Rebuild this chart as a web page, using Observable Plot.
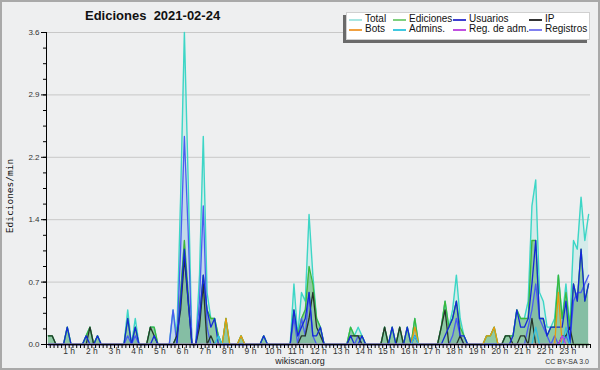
<!DOCTYPE html>
<html><head><meta charset="utf-8">
<script src="https://cdn.jsdelivr.net/npm/d3@7"></script>
<script src="https://cdn.jsdelivr.net/npm/@observablehq/plot@0.6"></script>
<style>
html,body{margin:0;padding:0;background:#eeeff0;}
#wrap{position:relative;width:600px;height:370px;background:#eeeff0;overflow:hidden;font-family:"Liberation Sans",Arial,sans-serif;}
#chart{position:absolute;left:0;top:0;}
#frame{position:absolute;left:0;top:0;width:600px;height:370px;box-sizing:border-box;border:2px solid #a9a9a9;pointer-events:none;}
#title{position:absolute;left:85px;top:9px;font-weight:bold;font-size:13px;line-height:13px;color:#111;white-space:pre;}
#ylab{position:absolute;left:9px;top:196px;transform:translate(-50%,-50%) rotate(-90deg);font-family:"DejaVu Sans Mono",monospace;font-size:9.5px;white-space:nowrap;color:#111;}
#legend{position:absolute;left:346px;top:12px;width:242px;height:26px;background:#fff;border:1px solid #d0d0d0;box-shadow:-3px 3px 0 #6a6a6a;}
.li{position:absolute;font-size:10px;line-height:10px;color:#111;white-space:nowrap;}
.ll{position:absolute;height:1.5px;width:13px;}
#site{position:absolute;left:300px;top:356px;transform:translateX(-50%);font-size:9px;line-height:10px;color:#222;}
#cc{position:absolute;right:11px;top:358px;font-size:7px;line-height:8px;color:#333;}
</style>
</head><body>
<div id="wrap">
  <div id="chart"></div>
  <div id="title">Ediciones  2021-02-24</div>
  <div id="ylab">Ediciones/min</div>
  <div id="legend"></div>
  <div id="site">wikiscan.org</div>
  <div id="cc">CC BY-SA 3.0</div>
  <div id="frame"></div>
</div>
<script>
// one value per 10-minute slot (144 slots), edits per minute
const total = [
 .1,.1,0,0,0,.2,
 0,0,0,0,.1,.2,
 0,.1,0,0,0,0,
 0,0,0,.4,0,.3,
 0,0,0,.2,.2,0,
 0,0,0,.4,.1,1.7,
 3.6,1.9,0,0,.8,2.4,
 .6,.3,.3,.1,0,.3,
 0,0,0,.1,0,0,
 0,0,0,.1,0,0,
 0,0,0,0,0,.7,
 .1,.6,.5,1.5,.8,.3,
 .2,0,0,0,0,0,
 0,0,.2,.1,.2,.1,
 0,0,0,0,0,.2,
 0,.2,0,.2,0,.2,
 0,.3,0,0,0,0,
 0,0,.2,.5,.2,.4,
 .8,.3,.1,0,0,0,
 0,0,.1,.1,.2,0,
 0,.1,.1,.1,.4,.3,
 .3,.5,1.6,1.9,.6,.5,
 .2,.2,.3,.8,.3,.7,
 .2,1.2,1.1,1.7,1.2,1.5
];
const ediciones = [
 .1,.1,0,0,0,.2,
 0,0,0,0,.1,.2,
 0,.1,0,0,0,0,
 0,0,0,.3,0,.2,
 0,0,0,.2,.2,0,
 0,0,0,0,.1,.6,
 1.2,.6,0,0,.3,.8,
 .4,.3,.3,.1,0,.3,
 0,0,0,.1,0,0,
 0,0,0,.1,0,0,
 0,0,0,0,0,.4,
 .1,.3,.4,.9,.7,.3,
 .2,0,0,0,0,0,
 0,0,.2,.1,.1,.1,
 0,0,0,0,0,.2,
 0,.2,0,.2,0,.2,
 0,.3,0,0,0,0,
 0,0,.2,.5,.2,.3,
 .5,.2,.1,0,0,0,
 0,0,.1,.1,.2,0,
 0,.1,.1,.1,.4,.3,
 .3,.3,1.2,1.2,.3,.3,
 .1,.2,.2,.8,.3,.6,
 .2,.7,.5,1.1,.5,.7
];
const usuarios = [
 0,0,0,0,0,.2,
 0,0,0,0,.1,0,
 0,.1,0,0,0,0,
 0,0,0,.3,0,.2,
 0,0,0,0,.1,0,
 0,0,0,0,0,.5,
 1.1,.5,0,0,.3,.8,
 .4,.2,.3,0,0,0,
 0,0,0,0,0,0,
 0,0,0,.1,0,0,
 0,0,0,0,0,.4,
 .1,.2,.3,.6,.1,.1,
 .2,0,0,0,0,0,
 0,0,.1,0,0,.1,
 0,0,0,0,0,0,
 0,.2,0,0,0,.2,
 0,.1,0,0,0,0,
 0,0,0,.1,.2,.3,
 .5,.1,.1,0,0,0,
 0,0,0,0,0,0,
 0,0,0,.1,.4,.2,
 .2,.3,.7,1.2,.3,.3,
 .1,.2,.2,.2,.2,.5,
 0,.7,.5,1.1,.5,.7
];
const ip = [
 .1,.1,0,0,0,0,
 0,0,0,0,0,.2,
 0,0,0,0,0,0,
 0,0,0,0,0,0,
 0,0,0,.2,.1,0,
 0,0,0,0,.1,.4,
 1.0,.5,0,0,.2,.7,
 0,.1,0,0,0,0,
 0,0,0,0,0,0,
 0,0,0,0,0,0,
 0,0,0,0,0,0,
 0,.1,.1,.3,.6,.2,
 .1,0,0,0,0,0,
 0,0,.1,.1,.1,0,
 0,0,0,0,0,.2,
 0,0,0,.2,0,0,
 0,0,0,0,0,0,
 0,0,.2,.4,0,0,
 0,.1,0,0,0,0,
 0,0,0,0,0,0,
 0,.1,.1,0,0,.1,
 .1,0,.3,0,0,0,
 0,0,0,0,.1,.1,
 .2,0,0,0,0,0
];
const bots = [
 0,0,0,0,0,0, 0,0,0,0,0,0, 0,0,0,0,0,0, 0,0,0,0,0,0,
 0,0,0,0,0,0, 0,0,0,0,0,0, 0,0,0,0,0,0,
 0,0,0,0,0,.3,
 0,0,0,.1,0,0,
 0,0,0,0,0,0, 0,0,0,0,0,0, 0,0,0,0,0,0, 0,0,0,0,0,0,
 0,0,0,0,0,0, 0,0,0,0,0,0, 0,0,0,0,0,0,
 0,.2,0,0,0,0,
 0,0,0,0,0,0, 0,0,0,0,0,0,
 0,0,.1,.1,.2,0,
 0,0,0,0,0,0, 0,0,0,0,0,0,
 0,0,0,.6,0,0,
 0,0,0,0,0,0
];
const admins = [
 0,0,0,0,0,0, 0,0,0,0,0,0, 0,0,0,0,0,0, 0,0,0,0,0,0,
 0,0,0,0,0,0, 0,0,0,0,0,0, 0,0,0,0,0,0,
 0,0,0,.1,0,0,
 0,0,0,0,0,0, 0,0,0,0,0,0, 0,0,0,0,0,0, 0,0,0,0,0,0,
 0,0,0,0,0,0, 0,0,0,0,0,0, 0,0,0,0,0,0, 0,0,0,0,0,0,
 0,.1,0,0,0,0,
 0,0,0,0,0,0, 0,0,0,0,0,0, 0,0,0,0,0,0, 0,0,0,0,0,0,
 0,0,0,.2,0,0,
 0,0,0,0,0,.2,
 0,0,0,0,0,0
];
const regAdm = [
 0,0,0,0,0,0, 0,0,0,0,0,0, 0,0,0,0,0,0, 0,0,0,0,0,0,
 0,0,0,0,0,0, 0,0,0,0,0,0, 0,0,0,0,0,0, 0,0,0,0,0,0,
 0,0,0,0,0,0, 0,0,0,0,0,0, 0,0,0,0,0,0, 0,0,0,0,0,0,
 0,0,0,0,0,0, 0,0,0,0,0,0, 0,0,0,0,0,0, 0,0,0,0,0,0,
 0,0,0,0,0,0, 0,0,0,0,0,0, 0,0,0,0,0,0, 0,0,0,0,0,0,
 0,0,0,0,0,0, 0,0,0,0,0,0,
 0,0,0,0,.1,0
];
const registros = [
 0,0,0,0,0,0, 0,0,0,0,0,0, 0,0,0,0,0,0,
 0,0,0,.1,0,.1,
 0,0,0,0,0,0,
 0,0,0,.4,0,1.1,
 2.4,1.3,0,0,.5,1.6,
 .2,0,0,0,0,0,
 0,0,0,0,0,0, 0,0,0,0,0,0,
 0,0,0,0,0,.3,
 0,.3,.1,.6,.1,0,
 0,0,0,0,0,0,
 0,0,0,0,.1,0,
 0,0,0,0,0,0, 0,0,0,0,0,0, 0,0,0,0,0,0,
 0,0,0,0,0,.1,
 .3,.1,0,0,0,0,
 0,0,0,0,0,0, 0,0,0,0,0,0,
 0,.2,.4,.7,.3,.2,
 .1,0,.1,0,0,.1,
 0,.5,.6,.6,.7,.8
];
const hourLabels = d3.range(1, 24).map(h => `${h} h`);
const yMajor = [0, 0.72, 1.44, 2.16, 2.88, 3.6];
const yMinor = d3.range(0, 21).map(k => k * 0.18);

const legendItems = [
  {name: "Total", color: "#a8e6e2", x: 349, y: 19},
  {name: "Ediciones", color: "#7fd07f", x: 393, y: 19},
  {name: "Usuarios", color: "#3f3fd0", x: 453, y: 19},
  {name: "IP", color: "#333333", x: 529, y: 19},
  {name: "Bots", color: "#f0a040", x: 349, y: 29},
  {name: "Admins.", color: "#40c8e0", x: 393, y: 29},
  {name: "Reg. de adm.", color: "#c050e0", x: 453, y: 29},
  {name: "Registros", color: "#8080f0", x: 529, y: 29}
];

const data = d3.range(144).map(i => ({
  t: i * 10 + 5,
  total: total[i], ediciones: ediciones[i], usuarios: usuarios[i], ip: ip[i],
  bots: bots[i], admins: admins[i], regAdm: regAdm[i], registros: registros[i]
}));

const line = (key, stroke, w = 1.3) => Plot.lineY(data, {x: "t", y: key, stroke, strokeWidth: w});

const chart = Plot.plot({
  width: 600, height: 370,
  marginLeft: 46, marginRight: 10, marginTop: 32, marginBottom: 26,
  style: {background: "transparent", fontFamily: "Liberation Sans, Arial, sans-serif", color: "#000"},
  x: {domain: [0, 1440]},
  y: {domain: [0, 3.6]},
  marks: [
    Plot.gridY(yMajor, {stroke: "#c8c8c8", strokeOpacity: 1}),
    Plot.areaY(data, {x: "t", y: "total", fill: "#40d8c8", fillOpacity: 0.15}),
    Plot.areaY(data, {x: "t", y: "registros", fill: "#5060f0", fillOpacity: 0.13}),
    Plot.areaY(data, {x: "t", y: "ediciones", fill: "#3ca050", fillOpacity: 0.45}),
    line("total", "#3dd6c6", 1.4),
    line("ediciones", "#3cb83c"),
    line("registros", "#4a5cf0"),
    line("ip", "#26352a"),
    line("usuarios", "#1428d8"),
    line("bots", "#e89a10"),
    line("admins", "#30c0e0"),
    line("regAdm", "#c040e0"),
    Plot.ruleY([0], {stroke: "#000"}),
    Plot.ruleX([0], {stroke: "#000"}),
    Plot.axisY({ticks: yMinor, tickSize: 3, tickFormat: () => "", label: null, stroke: "#000"}),
    Plot.axisY({ticks: yMajor, tickSize: 5, tickPadding: 2, tickFormat: d => d.toFixed(1), label: null, fontSize: 8, stroke: "#000", fill: "#333"}),
    Plot.axisX({ticks: d3.range(0, 1441, 10), tickSize: 4, tickFormat: () => "", label: null, stroke: "#000"}),
    Plot.axisX({ticks: d3.range(60, 1440, 60), tickSize: 0, tickPadding: 3, tickFormat: d => hourLabels[d / 60 - 1], label: null, fontSize: 8.5, fill: "#333"})
  ]
});
document.getElementById("chart").appendChild(chart);

const leg = document.getElementById("legend");
for (const it of legendItems) {
  const l = document.createElement("div");
  l.className = "ll";
  l.style.left = (it.x - 347) + "px";
  l.style.top = (it.y - 13) + "px";
  l.style.background = it.color;
  leg.appendChild(l);
  const t = document.createElement("div");
  t.className = "li";
  t.textContent = it.name;
  t.style.left = (it.x - 347 + 16) + "px";
  t.style.top = (it.y - 13 - 5) + "px";
  leg.appendChild(t);
}
</script>
</body></html>
